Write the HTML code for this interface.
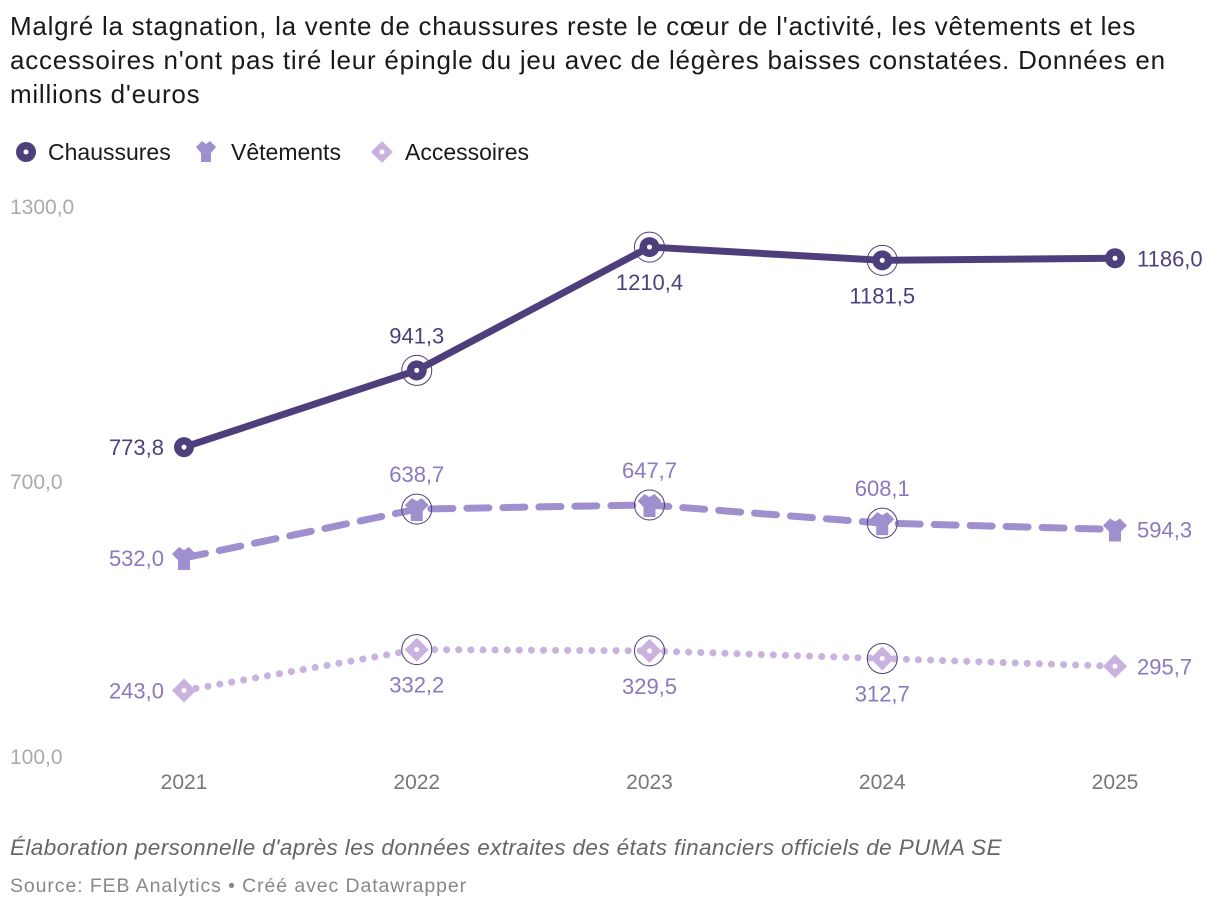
<!DOCTYPE html>
<html><head><meta charset="utf-8"><style>
body{margin:0;background:#fff;font-family:"Liberation Sans",sans-serif;}
#wrap{position:relative;width:1220px;height:910px;overflow:hidden}
h1{position:absolute;left:10px;top:9px;margin:0;font-weight:normal;font-size:26px;line-height:34px;color:#1a1a1a;width:1210px;white-space:nowrap;letter-spacing:0.75px}
.foot1{position:absolute;left:10px;top:835px;font-size:22.5px;font-style:italic;color:#666;letter-spacing:0.4px}
.foot2{position:absolute;left:10px;top:875px;font-size:19.5px;color:#888;letter-spacing:0.9px}
</style></head><body>
<div id="wrap">
<h1>Malgré la stagnation, la vente de chaussures reste le cœur de l'activité, les vêtements et les<br>accessoires n'ont pas tiré leur épingle du jeu avec de légères baisses constatées. Données en<br>millions d'euros</h1>
<svg width="1220" height="910" style="position:absolute;left:0;top:0" id="svg">
<g>
<g><circle cx="26" cy="152" r="10" fill="#4e3f7c"/><circle cx="26" cy="152" r="2.5" fill="#fff"/><text x="48" y="160" font-size="23" fill="#1a1a1a">Chaussures</text></g>
<g><path d="M196 147 l6 -6 l4 3 l4 -3 l6 6 l-5 6 v9 h-10 v-9z" fill="#a08fce"/><text x="231" y="160" font-size="23" fill="#1a1a1a">Vêtements</text></g>
<g><path d="M382 141 l11 11 l-11 11 l-11 -11z" fill="#c9b3de"/><circle cx="382" cy="152" r="2.5" fill="#fff"/><text x="405" y="160" font-size="23" fill="#1a1a1a">Accessoires</text></g>
</g>
</svg>
<div class="foot1">Élaboration personnelle d'après les données extraites des états financiers officiels de PUMA SE</div>
<div class="foot2">Source: FEB Analytics • Créé avec Datawrapper</div>
</div>
<script>
const years=["2021","2022","2023","2024","2025"];
const chaussures=[773.8,941.3,1210.4,1181.5,1186.0];
const vetements=[532.0,638.7,647.7,608.1,594.3];
const accessoires=[243.0,332.2,329.5,312.7,295.7];
const yTicks=[100,700,1300];
const NS="http://www.w3.org/2000/svg";
const svg=document.getElementById('svg');
function X(i){return 184+i*232.75;}
function Y(v){return 481-(v-700)*275/600;}
function el(t,a,p){const e=document.createElementNS(NS,t);for(const k in a)e.setAttribute(k,a[k]);(p||svg).appendChild(e);return e;}
function fmt(v){return v.toFixed(1).replace('.',',');}
yTicks.forEach(t=>{const e=el('text',{x:10,y:Y(t)+8,'font-size':21,fill:'#aaa'});e.textContent=fmt(t);

});
years.forEach((y,i)=>{const e=el('text',{x:X(i),y:789,'font-size':21,fill:'#777','text-anchor':'middle'});e.textContent=y;

});
const series=[
{name:'chaussures',d:chaussures,c:'#4e3f7c',dash:'',w:7,tc:'#4e3f7c',pos:['l','a','b','b','r']},
{name:'vetements',d:vetements,c:'#a08fce',dash:'22 14',w:7,tc:'#8b78bf',pos:['l','a','a','a','r']},
{name:'accessoires',d:accessoires,c:'#c9b3de',dash:'0.1 12',w:7,tc:'#8b78bf',pos:['l','b','b','b','r']}];
series.forEach(s=>{
 const g=el('g',{});
 
 
 const pts=s.d.map((v,i)=>X(i)+','+Y(v)).join(' ');
 const l=el('polyline',{points:pts,fill:'none',stroke:s.c,'stroke-width':s.w,'stroke-linecap':'round','stroke-linejoin':'round','stroke-dasharray':s.dash},g);
 
 
 s.d.forEach((v,i)=>{
  const x=X(i),y=Y(v);
  let m;
  if(s.name==='chaussures'){m=el('g',{},g);el('circle',{cx:x,cy:y,r:10,fill:s.c},m);el('circle',{cx:x,cy:y,r:2.5,fill:'#fff'},m);}
  else if(s.name==='vetements'){m=el('path',{d:`M${x-12} ${y-4} l7 -7 l5 3 l5 -3 l7 7 l-6 6 v10 h-12 v-10z`,fill:s.c},g);}
  else{m=el('g',{},g);el('path',{d:`M${x} ${y-12} l12 12 l-12 12 l-12 -12z`,fill:s.c},m);el('circle',{cx:x,cy:y,r:2.5,fill:'#fff'},m);}
  
  
  if(i>0&&i<4){el('circle',{cx:x,cy:y,r:15,fill:'none',stroke:'#4e3f7c','stroke-width':1},g);}
  let tx=x,ty=y,anc='middle';
  const p=s.pos[i];
  if(p==='l'){tx=x-20;ty=y+8;anc='end';}else if(p==='r'){tx=x+22;ty=y+8;anc='start';}
  else if(p==='a'){ty=y-27;}else{ty=y+43;}
  const t=el('text',{x:tx,y:ty,'font-size':22,fill:s.tc,'text-anchor':anc},g);t.textContent=fmt(v);
  
  
 });
});
</script>
</body></html>
